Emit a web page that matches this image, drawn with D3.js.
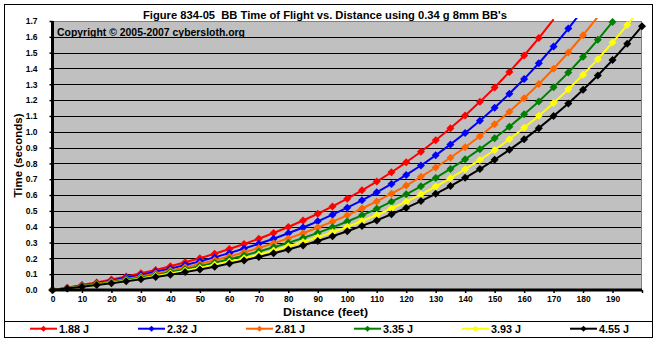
<!DOCTYPE html>
<html>
<head>
<meta charset="utf-8">
<script src="https://cdn.jsdelivr.net/npm/d3@7"></script>
<style>
  html, body { margin: 0; padding: 0; background: #ffffff; }
  svg { display: block; }
  text { font-family: "Liberation Sans", Arial, sans-serif; font-weight: bold; fill: #000; white-space: pre; }
</style>
</head>
<body>
<svg id="chart" width="657" height="343"></svg>
<script>
// ---- Data ----
const distances = [0,5,10,15,20,25,30,35,40,45,50,55,60,65,70,75,80,85,90,95,100,105,110,115,120,125,130,135,140,145,150,155,160,165,170,175,180,185,190,195,200];
const seriesNames = ["1.88 J", "2.32 J", "2.81 J", "3.35 J", "3.93 J", "4.55 J"];
const seriesColors = ["#FF0000", "#0000FF", "#FF6600", "#008000", "#FFFF00", "#000000"];
const t188 = [0,0.015,0.031,0.048,0.066,0.085,0.106,0.127,0.150,0.175,0.201,0.229,0.259,0.291,0.324,0.360,0.398,0.439,0.482,0.528,0.577,0.630,0.685,0.744,0.807,0.874,0.946,1.022,1.103,1.189,1.280,1.378,1.482,1.592,1.710];
const t232 = [0,0.013,0.028,0.043,0.059,0.077,0.095,0.115,0.135,0.158,0.181,0.206,0.233,0.262,0.292,0.324,0.359,0.395,0.434,0.476,0.520,0.567,0.617,0.670,0.727,0.787,0.851,0.920,0.992,1.070,1.152,1.240,1.333,1.433,1.539,1.652,1.771];
const t281 = [0,0.012,0.025,0.039,0.054,0.070,0.086,0.104,0.123,0.143,0.165,0.188,0.212,0.238,0.265,0.295,0.326,0.359,0.395,0.432,0.472,0.515,0.560,0.609,0.660,0.715,0.774,0.836,0.902,0.972,1.047,1.127,1.212,1.302,1.398,1.501,1.610,1.726];
const t335 = [0,0.011,0.023,0.036,0.049,0.064,0.079,0.095,0.113,0.131,0.151,0.172,0.194,0.218,0.243,0.270,0.298,0.329,0.361,0.396,0.433,0.472,0.513,0.558,0.605,0.655,0.708,0.765,0.826,0.890,0.959,1.032,1.110,1.192,1.281,1.374,1.474,1.581,1.694];
const t393 = [0,0.010,0.021,0.033,0.046,0.059,0.073,0.088,0.104,0.121,0.139,0.159,0.179,0.201,0.224,0.249,0.276,0.304,0.334,0.365,0.399,0.436,0.474,0.515,0.558,0.605,0.654,0.707,0.763,0.822,0.885,0.953,1.025,1.101,1.182,1.269,1.361,1.459,1.564,1.675,1.793];
const t455 = [0,0.010,0.020,0.031,0.042,0.055,0.068,0.082,0.097,0.113,0.129,0.147,0.167,0.187,0.209,0.232,0.256,0.282,0.310,0.340,0.371,0.405,0.440,0.479,0.519,0.562,0.608,0.657,0.709,0.764,0.823,0.886,0.952,1.023,1.099,1.179,1.265,1.356,1.453,1.557,1.667];
const seriesValues = [t188, t232, t281, t335, t393, t455];
const xTickValues = [0,10,20,30,40,50,60,70,80,90,100,110,120,130,140,150,160,170,180,190,200];
const xTickLabels = ["0","10","20","30","40","50","60","70","80","90","100","110","120","130","140","150","160","170","180","190",""];
const yTickValues = [0,0.1,0.2,0.3,0.4,0.5,0.6,0.7,0.8,0.9,1.0,1.1,1.2,1.3,1.4,1.5,1.6,1.7];
const titleText = "Figure 834-05  BB Time of Flight vs. Distance using 0.34 g 8mm BB's";
const copyrightText = "Copyright \u00A9 2005-2007 cybersloth.org";
const xTitle = "Distance (feet)";
const yTitle = "Time (seconds)";

// ---- Layout ----
const svg = d3.select("#chart");
const plot = { left: 52.5, right: 642, top: 21, bottom: 290 };
const x = d3.scaleLinear().domain([0, 200]).range([plot.left, plot.right]);
const y = d3.scaleLinear().domain([0, 1.7]).range([plot.bottom, plot.top]);

// outer chart border + legend separator
svg.append("rect").attr("x", 4.5).attr("y", 4.5).attr("width", 648).attr("height", 333)
  .attr("fill", "#fff").attr("stroke", "#000").attr("stroke-width", 1);
svg.append("line").attr("x1", 4.5).attr("x2", 652.5).attr("y1", 321.5).attr("y2", 321.5)
  .attr("stroke", "#000").attr("stroke-width", 1);

// plot background
svg.append("rect").attr("x", plot.left).attr("y", plot.top)
  .attr("width", plot.right - plot.left).attr("height", plot.bottom - plot.top)
  .attr("fill", "#C0C0C0");

// gridlines
svg.append("g").selectAll("line").data(yTickValues.filter(v => v > 0 && v < 1.65)).join("line")
  .attr("x1", plot.left).attr("x2", plot.right)
  .attr("y1", d => Math.round(y(d)) + 0.5).attr("y2", d => Math.round(y(d)) + 0.5)
  .attr("stroke", "#000").attr("stroke-width", 1);

// plot border (gray)
svg.append("rect").attr("x", plot.left).attr("y", plot.top + 0.5)
  .attr("width", plot.right - plot.left - 0.5).attr("height", plot.bottom - plot.top)
  .attr("fill", "none").attr("stroke", "#808080").attr("stroke-width", 1);

// copyright
svg.append("text").attr("x", 57).attr("y", 36).attr("font-size", 10.5)
  .attr("textLength", 188).attr("lengthAdjust", "spacingAndGlyphs").text(copyrightText);

// clip for series
svg.append("clipPath").attr("id", "clip").append("rect")
  .attr("x", plot.left - 5).attr("y", 18).attr("width", plot.right - plot.left + 10).attr("height", plot.bottom - 18 + 6);

const diamond = r => `M0,${-r}L${r},0L0,${r}L${-r},0Z`;
const lineGen = d3.line().x(d => x(d[0])).y(d => y(d[1]));

const seriesG = svg.append("g").attr("clip-path", "url(#clip)");
seriesValues.forEach((vals, i) => {
  const pts = vals.map((v, j) => [distances[j], v]);
  seriesG.append("path").datum(pts).attr("d", lineGen)
    .attr("fill", "none").attr("stroke", seriesColors[i]).attr("stroke-width", 2)
    .attr("stroke-linejoin", "round");
  seriesG.append("g").selectAll("path").data(pts.filter(p => p[1] <= 1.7)).join("path")
    .attr("d", diamond(4))
    .attr("transform", d => `translate(${x(d[0])},${y(d[1])})`)
    .attr("fill", seriesColors[i]);
});

// axes
const yAxis = d3.axisLeft(y).tickValues(yTickValues).tickFormat(d3.format(".1f")).tickSize(3).tickPadding(12);
const gy = svg.append("g").attr("transform", `translate(${plot.left},0)`).call(yAxis);
gy.select(".domain").attr("stroke", "#000").attr("stroke-width", 3).attr("d", `M0,${plot.top}V${plot.bottom}`);
gy.selectAll(".tick line").attr("stroke", "#000").attr("stroke-width", 1.5);
gy.selectAll(".tick text").attr("font-size", 8.5).attr("font-family", "'Liberation Sans', Arial, sans-serif").attr("font-weight", "bold");

const xAxis = d3.axisBottom(x).tickValues(xTickValues).tickFormat((d, i) => xTickLabels[i]).tickSize(3).tickPadding(3);
const gx = svg.append("g").attr("transform", `translate(0,${plot.bottom})`).call(xAxis);
gx.select(".domain").attr("stroke", "#000").attr("stroke-width", 3).attr("d", `M${plot.left},0H${plot.right}`);
gx.selectAll(".tick line").attr("stroke", "#000").attr("stroke-width", 1.5);
gx.selectAll(".tick text").attr("font-size", 8.5).attr("font-family", "'Liberation Sans', Arial, sans-serif").attr("font-weight", "bold");

// titles
svg.append("text").attr("x", 325).attr("y", 18.5).attr("text-anchor", "middle").attr("font-size", 11)
  .attr("textLength", 364).attr("lengthAdjust", "spacingAndGlyphs").text(titleText);
svg.append("text").attr("x", 325.5).attr("y", 315.5).attr("text-anchor", "middle").attr("font-size", 11)
  .attr("textLength", 85).attr("lengthAdjust", "spacingAndGlyphs").text(xTitle);
svg.append("text").attr("transform", `translate(22,${(plot.top + plot.bottom) / 2}) rotate(-90)`)
  .attr("text-anchor", "middle").attr("font-size", 11.5).text(yTitle);

// legend
const legend = svg.append("g");
seriesNames.forEach((name, i) => {
  const lx = 30 + i * 108;
  const g = legend.append("g").attr("transform", `translate(${lx},328.7)`);
  g.append("line").attr("x1", 0).attr("x2", 27).attr("y1", 0).attr("y2", 0)
    .attr("stroke", seriesColors[i]).attr("stroke-width", 2);
  g.append("path").attr("d", diamond(3)).attr("transform", "translate(13.5,0)").attr("fill", seriesColors[i]);
  g.append("text").attr("x", 29).attr("y", 4).attr("font-size", 10.5)
    .attr("textLength", 30).attr("lengthAdjust", "spacingAndGlyphs").text(name);
});
</script>
</body>
</html>
